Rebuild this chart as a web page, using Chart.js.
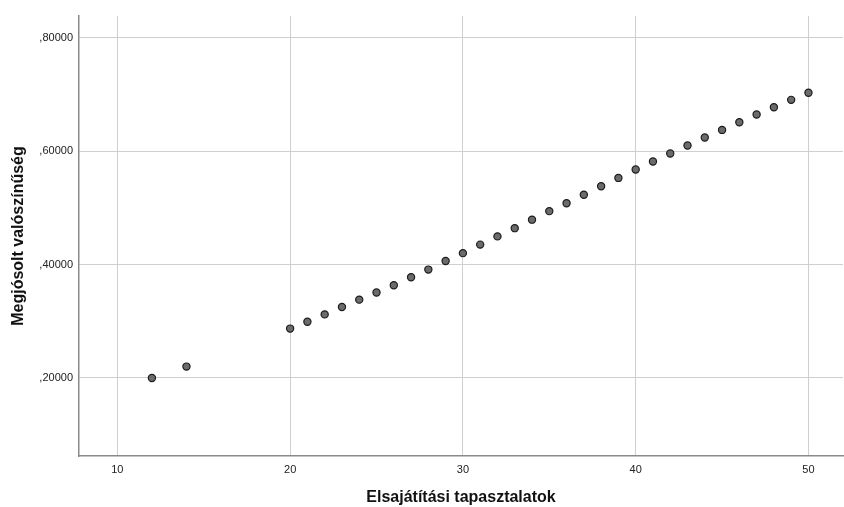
<!DOCTYPE html>
<html>
<head>
<meta charset="utf-8">
<script src="https://cdn.jsdelivr.net/npm/chart.js@4/dist/chart.umd.min.js"></script>
<style>
    html, body { margin: 0; padding: 0; background: #fff; }
    #wrap { width: 844px; height: 507px; position: relative; }
</style>
</head>
<body>
<div id="wrap"><canvas id="scatterChart"></canvas></div>
<script>
// Elsajátítási tapasztalatok (x) vs. Megjósolt valószínűség (y)
const xValues = [12, 14, 20, 21, 22, 23, 24, 25, 26, 27, 28, 29, 30, 31, 32, 33, 34, 35,
    36, 37, 38, 39, 40, 41, 42, 43, 44, 45, 46, 47, 48, 49, 50];
const yValues = [0.200, 0.220, 0.287, 0.299, 0.312, 0.325, 0.338, 0.3505, 0.3635, 0.3776,
    0.391, 0.406, 0.420, 0.435, 0.4495, 0.464, 0.479, 0.494, 0.508, 0.523, 0.538, 0.5526,
    0.5673, 0.5814, 0.5955, 0.6096, 0.6237, 0.6372, 0.6508, 0.6644, 0.6772, 0.6902, 0.7026];
const xTicks = [10, 20, 30, 40, 50];
const yTicks = [0.2, 0.4, 0.6, 0.8];

const points = xValues.map((x, i) => ({ x: x, y: yValues[i] }));

// SPSS style: ,80000
function spssLabel(value) {
    return value.toFixed(5).replace(/^0\./, ',');
}

const tickFont = { family: "'Liberation Sans', Arial, sans-serif", size: 11 };
const titleFont = { family: "'Liberation Sans', Arial, sans-serif", size: 16, weight: 'bold' };

const config = {
    type: 'scatter',
    data: {
        datasets: [{
            label: 'Megjósolt valószínűség',
            data: points,
            backgroundColor: '#6b6b6b',
            borderColor: '#1c1c1c',
            borderWidth: 1.2,
            pointRadius: 3.6,
            pointHoverRadius: 4
        }]
    },
    options: {
        responsive: true,
        maintainAspectRatio: false,
        animation: false,
        layout: {
            autoPadding: false,
            padding: { top: 16, right: 1, left: 0, bottom: 0 }
        },
        plugins: {
            legend: { display: false },
            tooltip: { enabled: true }
        },
        scales: {
            x: {
                type: 'linear',
                min: 7.78,
                max: 52,
                afterBuildTicks: function(scale) {
                    scale.ticks = xTicks.map(v => ({ value: v }));
                },
                afterFit: function(scale) {
                    scale.height = 51;
                },
                grid: {
                    color: '#cfcfcf',
                    lineWidth: 1,
                    drawTicks: false
                },
                border: { color: '#8a8a8a', width: 1.5 },
                ticks: {
                    padding: 7,
                    color: '#222',
                    font: tickFont,
                    maxRotation: 0,
                    callback: function(value) { return String(value); }
                },
                title: {
                    display: true,
                    text: 'Elsajátítási tapasztalatok',
                    color: '#111',
                    font: titleFont,
                    padding: { top: 12, bottom: 0 }
                }
            },
            y: {
                type: 'linear',
                min: 0.0624,
                max: 0.838,
                afterBuildTicks: function(scale) {
                    scale.ticks = yTicks.map(v => ({ value: v }));
                },
                afterFit: function(scale) {
                    scale.width = 79;
                },
                grid: {
                    color: '#cfcfcf',
                    lineWidth: 1,
                    drawTicks: false
                },
                border: { color: '#8a8a8a', width: 1.5 },
                ticks: {
                    padding: 6,
                    color: '#222',
                    font: tickFont,
                    callback: function(value) { return spssLabel(value); }
                },
                title: {
                    display: true,
                    text: 'Megjósolt valószínűség',
                    color: '#111',
                    font: titleFont,
                    padding: { top: 9, bottom: 4 }
                }
            }
        }
    }
};

document.addEventListener('DOMContentLoaded', function() {
    const ctx = document.getElementById('scatterChart');
    if (ctx) {
        new Chart(ctx, config);
    }
});
</script>
</body>
</html>
